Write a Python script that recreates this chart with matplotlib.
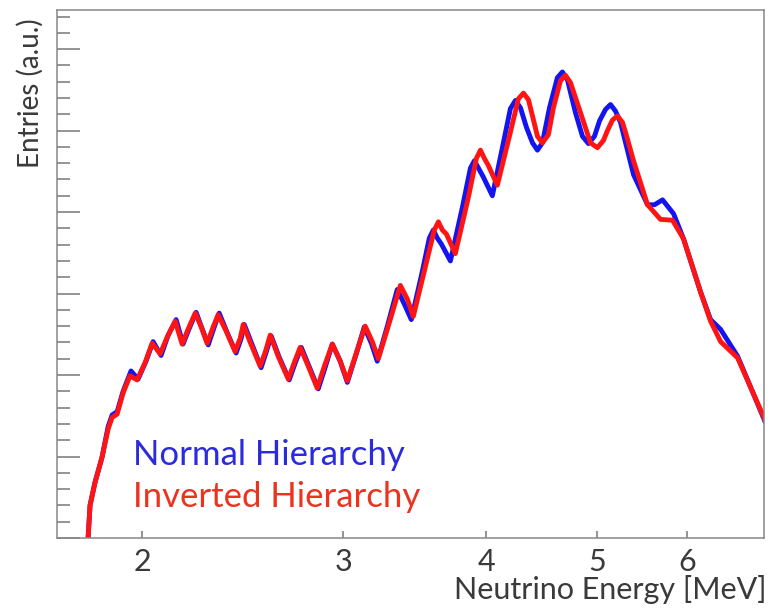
import numpy as np
import matplotlib as mpl
mpl.use('Agg')
import matplotlib.pyplot as plt
from matplotlib.ticker import FixedLocator, NullLocator, MultipleLocator

# reactor spectrum, normal hierarchy
e_nh = [1.794, 1.801, 1.819, 1.845, 1.868, 1.883, 1.902, 1.925, 1.956, 1.984,
        2.016, 2.045, 2.078, 2.108, 2.142, 2.172, 2.199, 2.230, 2.257, 2.285,
        2.313, 2.336, 2.374, 2.417, 2.442, 2.457, 2.492, 2.542, 2.568, 2.594,
        2.636, 2.690, 2.723, 2.756, 2.801, 2.852, 2.893, 2.934, 2.981, 3.024,
        3.079, 3.129, 3.174, 3.212, 3.278, 3.344, 3.392, 3.440, 3.517, 3.567,
        3.596, 3.625, 3.654, 3.722, 3.813, 3.875, 3.906, 3.938, 3.977, 4.050,
        4.141, 4.200, 4.243, 4.286, 4.338, 4.391, 4.435, 4.480, 4.544, 4.617,
        4.664, 4.712, 4.788, 4.856, 4.915, 4.975, 5.026, 5.087, 5.138, 5.190,
        5.243, 5.382, 5.536, 5.615, 5.706, 5.834, 5.953, 6.160, 6.286, 6.414,
        6.638, 7.009]
n_nh = [0.00, 0.40, 0.68, 0.99, 1.37, 1.51, 1.55, 1.80, 2.05, 1.95,
        2.17, 2.41, 2.24, 2.49, 2.68, 2.38, 2.57, 2.77, 2.57, 2.37,
        2.59, 2.76, 2.52, 2.27, 2.45, 2.62, 2.40, 2.09, 2.28, 2.48,
        2.22, 1.94, 2.15, 2.34, 2.10, 1.83, 2.10, 2.38, 2.17, 1.91,
        2.26, 2.59, 2.39, 2.17, 2.60, 3.05, 2.87, 2.68, 3.27, 3.68,
        3.78, 3.68, 3.61, 3.40, 4.06, 4.54, 4.63, 4.54, 4.43, 4.20,
        4.85, 5.27, 5.37, 5.28, 5.04, 4.85, 4.76, 4.85, 5.28, 5.65,
        5.72, 5.62, 5.22, 4.93, 4.84, 4.93, 5.12, 5.26, 5.32, 5.24,
        5.10, 4.46, 4.09, 4.09, 4.15, 3.98, 3.67, 3.02, 2.68, 2.56,
        2.23, 1.44]

# inverted hierarchy
e_ih = [1.794, 1.801, 1.819, 1.845, 1.868, 1.883, 1.902, 1.925, 1.952, 1.980,
        2.012, 2.041, 2.074, 2.103, 2.138, 2.168, 2.194, 2.226, 2.253, 2.280,
        2.308, 2.331, 2.369, 2.412, 2.437, 2.452, 2.487, 2.537, 2.563, 2.589,
        2.631, 2.685, 2.717, 2.750, 2.795, 2.846, 2.886, 2.934, 2.981, 3.024,
        3.079, 3.135, 3.180, 3.219, 3.284, 3.365, 3.413, 3.454, 3.539, 3.603,
        3.633, 3.662, 3.692, 3.759, 3.859, 3.922, 3.954, 3.985, 4.018, 4.091,
        4.200, 4.268, 4.312, 4.355, 4.391, 4.435, 4.480, 4.534, 4.580, 4.645,
        4.692, 4.740, 4.837, 4.935, 5.005, 5.066, 5.107, 5.159, 5.211, 5.264,
        5.296, 5.382, 5.536, 5.683, 5.822, 5.953, 6.160, 6.286, 6.414, 6.638,
        7.009]
n_ih = [0.00, 0.40, 0.68, 0.99, 1.34, 1.48, 1.52, 1.78, 1.99, 1.94,
        2.15, 2.39, 2.26, 2.46, 2.66, 2.38, 2.56, 2.76, 2.59, 2.39,
        2.59, 2.74, 2.54, 2.29, 2.45, 2.62, 2.40, 2.11, 2.28, 2.49,
        2.23, 1.95, 2.15, 2.34, 2.11, 1.84, 2.10, 2.38, 2.17, 1.93,
        2.27, 2.60, 2.41, 2.20, 2.60, 3.10, 2.93, 2.72, 3.33, 3.78,
        3.88, 3.78, 3.73, 3.49, 4.18, 4.66, 4.76, 4.66, 4.57, 4.33,
        4.98, 5.39, 5.46, 5.38, 5.18, 4.93, 4.85, 4.95, 5.28, 5.61,
        5.68, 5.59, 5.22, 4.85, 4.79, 4.88, 5.00, 5.13, 5.18, 5.10,
        4.98, 4.63, 4.09, 3.91, 3.90, 3.67, 3.02, 2.66, 2.41, 2.21,
        1.46]

xticks = [2, 3, 4, 5, 6]

fsize = 22
grey = '#3a3a3a'
plt.rcParams['font.family'] = ['Lato', 'DejaVu Sans']

fig = plt.figure(figsize=(7.68, 6.14), dpi=100)
ax = fig.add_axes([0.0742, 0.1238, 0.9206, 0.8599])

ax.plot(e_nh, n_nh, '-', color='#1414f0', lw=3.5, solid_joinstyle='round')
ax.plot(e_ih, n_ih, '-', color='#ff1414', lw=3.5, solid_joinstyle='round')

ax.set_xscale('log')
ax.set_xlim(1.685, 7.0)
ax.set_ylim(0, 6.48)
ax.xaxis.set_major_locator(FixedLocator(xticks))
ax.xaxis.set_minor_locator(NullLocator())
ax.set_xticklabels([str(v) for v in xticks])
ax.yaxis.set_major_locator(MultipleLocator(1))
ax.yaxis.set_minor_locator(MultipleLocator(0.2))
ax.set_yticklabels([])

ax.tick_params(axis='x', which='major', direction='in', length=5, width=1.1,
               color='#777777', labelsize=fsize, labelcolor=grey, pad=7)
ax.tick_params(axis='y', which='major', direction='in', length=16.5, width=1.1,
               color='#777777')
ax.tick_params(axis='y', which='minor', direction='in', length=9, width=1.1,
               color='#777777')
for s in ax.spines.values():
    s.set_color('#888888')
    s.set_linewidth(1.1)

fig.text(767/768, 1-599/614, 'Neutrino Energy [MeV]', ha='right', va='baseline',
         fontsize=fsize, color=grey)
fig.text(30/768, 1-18/614, 'Entries (a.u.)', rotation=90, ha='center', va='top',
         fontsize=fsize-2, color=grey)

ax.text(0.1075, 0.138, 'Normal Hierarchy', transform=ax.transAxes,
        va='baseline', fontsize=25, color='#2b2bdc')
ax.text(0.1075, 0.0587, 'Inverted Hierarchy', transform=ax.transAxes,
        va='baseline', fontsize=25, color='#ec3320')

fig.savefig('out.png', dpi=100)
